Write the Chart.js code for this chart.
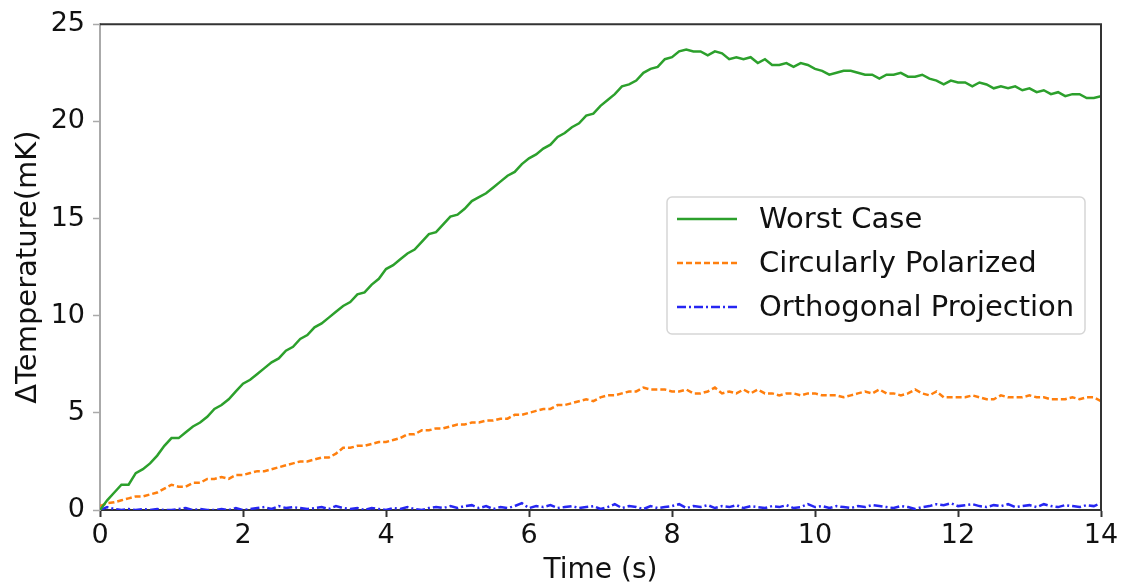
<!DOCTYPE html>
<html>
<head>
<meta charset="utf-8">
<script src="https://cdn.jsdelivr.net/npm/chart.js@4"></script>
<style>
  html, body { margin: 0; padding: 0; background: #fff; }
  #wrap { width: 1126px; height: 584px; }
</style>
</head>
<body>
<div id="wrap"><canvas id="chart"></canvas></div>
<script>
// time axis, 0..14 s in 0.1 s steps
const times = Array.from({length: 141}, (_, i) => +(i * 0.1).toFixed(1))

const worstCase = [
  0.0, 0.5, 0.9, 1.3, 1.3, 1.9, 2.1, 2.4, 2.8, 3.3, 3.7,
  3.7, 4.0, 4.3, 4.5, 4.8, 5.2, 5.4, 5.7, 6.1, 6.5,
  6.7, 7.0, 7.3, 7.6, 7.8, 8.2, 8.4, 8.8, 9.0, 9.4,
  9.6, 9.9, 10.2, 10.5, 10.7, 11.1, 11.2, 11.6, 11.9, 12.4,
  12.6, 12.9, 13.2, 13.4, 13.8, 14.2, 14.3, 14.7, 15.1, 15.2,
  15.5, 15.9, 16.1, 16.3, 16.6, 16.9, 17.2, 17.4, 17.8, 18.1,
  18.3, 18.6, 18.8, 19.2, 19.4, 19.7, 19.9, 20.3, 20.4, 20.8,
  21.1, 21.4, 21.8, 21.9, 22.1, 22.5, 22.7, 22.8, 23.2, 23.3,
  23.6, 23.7, 23.6, 23.6, 23.4, 23.6, 23.5, 23.2, 23.3, 23.2,
  23.3, 23.0, 23.2, 22.9, 22.9, 23.0, 22.8, 23.0, 22.9, 22.7,
  22.6, 22.4, 22.5, 22.6, 22.6, 22.5, 22.4, 22.4, 22.2, 22.4,
  22.4, 22.5, 22.3, 22.3, 22.4, 22.2, 22.1, 21.9, 22.1, 22.0,
  22.0, 21.8, 22.0, 21.9, 21.7, 21.8, 21.7, 21.8, 21.6, 21.7,
  21.5, 21.6, 21.4, 21.5, 21.3, 21.4, 21.4, 21.2, 21.2, 21.3
]

const circular = [
  0.2, 0.35, 0.4, 0.5, 0.6, 0.7, 0.7, 0.8, 0.9, 1.1, 1.3,
  1.2, 1.2, 1.4, 1.4, 1.6, 1.6, 1.7, 1.6, 1.8, 1.8,
  1.9, 2.0, 2.0, 2.1, 2.2, 2.3, 2.4, 2.5, 2.5, 2.6,
  2.7, 2.7, 2.9, 3.2, 3.2, 3.3, 3.3, 3.4, 3.5, 3.5,
  3.6, 3.7, 3.9, 3.9, 4.1, 4.1, 4.2, 4.2, 4.3, 4.4,
  4.4, 4.5, 4.5, 4.6, 4.6, 4.7, 4.7, 4.9, 4.9, 5.0,
  5.1, 5.2, 5.2, 5.4, 5.4, 5.5, 5.6, 5.7, 5.6, 5.8,
  5.9, 5.9, 6.0, 6.1, 6.1, 6.3, 6.2, 6.2, 6.2, 6.1,
  6.1, 6.2, 6.0, 6.0, 6.1, 6.3, 6.0, 6.1, 6.0, 6.2,
  6.0, 6.2, 6.0, 6.0, 5.9, 6.0, 6.0, 5.9, 6.0, 6.0,
  5.9, 5.9, 5.9, 5.8, 5.9, 6.0, 6.1, 6.0, 6.2, 6.0,
  6.0, 5.9, 6.0, 6.2, 6.0, 5.9, 6.1, 5.8, 5.8, 5.8,
  5.8, 5.9, 5.8, 5.7, 5.7, 5.9, 5.8, 5.8, 5.8, 5.9,
  5.8, 5.8, 5.7, 5.7, 5.7, 5.8, 5.7, 5.8, 5.8, 5.6
]

const orthogonal = [
  0.0, 0.15, 0.05, 0.0, 0.05, 0.0, 0.05, 0.0, 0.05, 0.0, 0.0,
  0.05, 0.1, 0.0, 0.05, 0.0, 0.0, 0.05, 0.0, 0.1, 0.0,
  0.05, 0.1, 0.15, 0.05, 0.2, 0.1, 0.15, 0.1, 0.05, 0.1,
  0.15, 0.05, 0.2, 0.1, 0.05, 0.1, 0.0, 0.1, 0.05, 0.0,
  0.1, 0.05, 0.15, 0.05, 0.0, 0.1, 0.15, 0.1, 0.2, 0.1,
  0.2, 0.25, 0.1, 0.2, 0.05, 0.15, 0.1, 0.2, 0.35, 0.1,
  0.2, 0.15, 0.25, 0.1, 0.15, 0.2, 0.1, 0.15, 0.2, 0.05,
  0.15, 0.3, 0.1, 0.2, 0.15, 0.05, 0.2, 0.1, 0.15, 0.2,
  0.3, 0.1, 0.2, 0.15, 0.25, 0.1, 0.2, 0.15, 0.25, 0.1,
  0.2, 0.15, 0.1, 0.2, 0.15, 0.25, 0.1, 0.15, 0.3, 0.15,
  0.2, 0.1, 0.2, 0.15, 0.1, 0.2, 0.15, 0.25, 0.2, 0.15,
  0.1, 0.2, 0.15, 0.05, 0.15, 0.2, 0.3, 0.25, 0.35, 0.2,
  0.25, 0.3, 0.2, 0.15, 0.25, 0.2, 0.3, 0.15, 0.2, 0.25,
  0.15, 0.3, 0.2, 0.15, 0.25, 0.2, 0.15, 0.25, 0.2, 0.35
]

const seriesLabels = ["Worst Case", "Circularly Polarized", "Orthogonal Projection"]
const xTicks = [0, 2, 4, 6, 8, 10, 12, 14]
const yTicks = [0, 5, 10, 15, 20, 25]

const FONT = "'DejaVu Sans', sans-serif"

const toPoints = (vals) => vals.map((v, i) => ({x: times[i], y: v}))

// top/right spines + legend box inside the plot area
const framePlugin = {
  id: "frame",
  afterDatasetsDraw(chart) {
    const {ctx, chartArea: a} = chart
    ctx.save()
    ctx.strokeStyle = "#333"
    ctx.lineWidth = 2
    ctx.beginPath()
    ctx.moveTo(a.left, a.top)
    ctx.lineTo(a.right, a.top)
    ctx.lineTo(a.right, a.bottom)
    ctx.stroke()
    ctx.restore()
  },
  afterDraw(chart) {
    const {ctx} = chart
    const sets = chart.data.datasets
    const bx = 667, by = 197, bw = 418, bh = 137
    ctx.save()
    ctx.fillStyle = "rgba(255,255,255,0.85)"
    ctx.strokeStyle = "#d6d6d6"
    ctx.lineWidth = 1.5
    ctx.beginPath()
    ctx.roundRect(bx, by, bw, bh, 5)
    ctx.fill()
    ctx.stroke()
    ctx.font = "29px " + FONT
    ctx.textBaseline = "middle"
    sets.forEach((ds, i) => {
      const y = by + 22 + i * 44
      ctx.strokeStyle = ds.borderColor
      ctx.lineWidth = ds.borderWidth
      ctx.setLineDash(ds.borderDash || [])
      ctx.beginPath()
      ctx.moveTo(677, y)
      ctx.lineTo(737, y)
      ctx.stroke()
      ctx.setLineDash([])
      ctx.fillStyle = "#111"
      ctx.fillText(ds.label, 759, y + 1)
    })
    ctx.restore()
  }
}

new Chart(document.getElementById("chart"), {
  type: "line",
  data: {
    datasets: [
      {
        label: seriesLabels[0],
        data: toPoints(worstCase),
        borderColor: "#2ca02c",
        borderWidth: 2.5,
        pointRadius: 0,
        fill: false
      },
      {
        label: seriesLabels[1],
        data: toPoints(circular),
        borderColor: "#ff7f0e",
        borderWidth: 2.5,
        borderDash: [6, 3],
        pointRadius: 0,
        fill: false
      },
      {
        label: seriesLabels[2],
        data: toPoints(orthogonal),
        borderColor: "#2626f2",
        borderWidth: 2.5,
        borderDash: [9, 3, 2, 3],
        pointRadius: 0,
        fill: false
      }
    ]
  },
  options: {
    responsive: true,
    maintainAspectRatio: false,
    animation: false,
    layout: {padding: {left: 4, top: 23, right: 25, bottom: 0}},
    plugins: {
      legend: {display: false},
      tooltip: {enabled: false}
    },
    scales: {
      x: {
        type: "linear",
        min: 0,
        max: 14,
        afterBuildTicks: (s) => { s.ticks = xTicks.map(v => ({value: v})) },
        afterFit: (s) => { s.height = 74 },
        border: {color: "#333", width: 2},
        grid: {drawOnChartArea: false, tickLength: 7, color: "#333", tickWidth: 2},
        ticks: {color: "#111", font: {family: FONT, size: 27}, padding: 3},
        title: {display: true, text: "Time (s)", color: "#111", font: {family: FONT, size: 28}, padding: {top: 0, bottom: -4}}
      },
      y: {
        min: 0,
        max: 25,
        afterBuildTicks: (s) => { s.ticks = yTicks.map(v => ({value: v})) },
        afterFit: (s) => { s.width = 96 },
        border: {color: "#aaa", width: 2},
        grid: {drawOnChartArea: false, tickLength: 7, color: "#aaa", tickWidth: 1.5},
        ticks: {color: "#111", font: {family: FONT, size: 27}, padding: 8},
        title: {display: true, text: "ΔTemperature(mK)", color: "#111", font: {family: FONT, size: 29}, padding: {top: 7, bottom: 0}}
      }
    }
  },
  plugins: [framePlugin]
})
</script>
</body>
</html>
